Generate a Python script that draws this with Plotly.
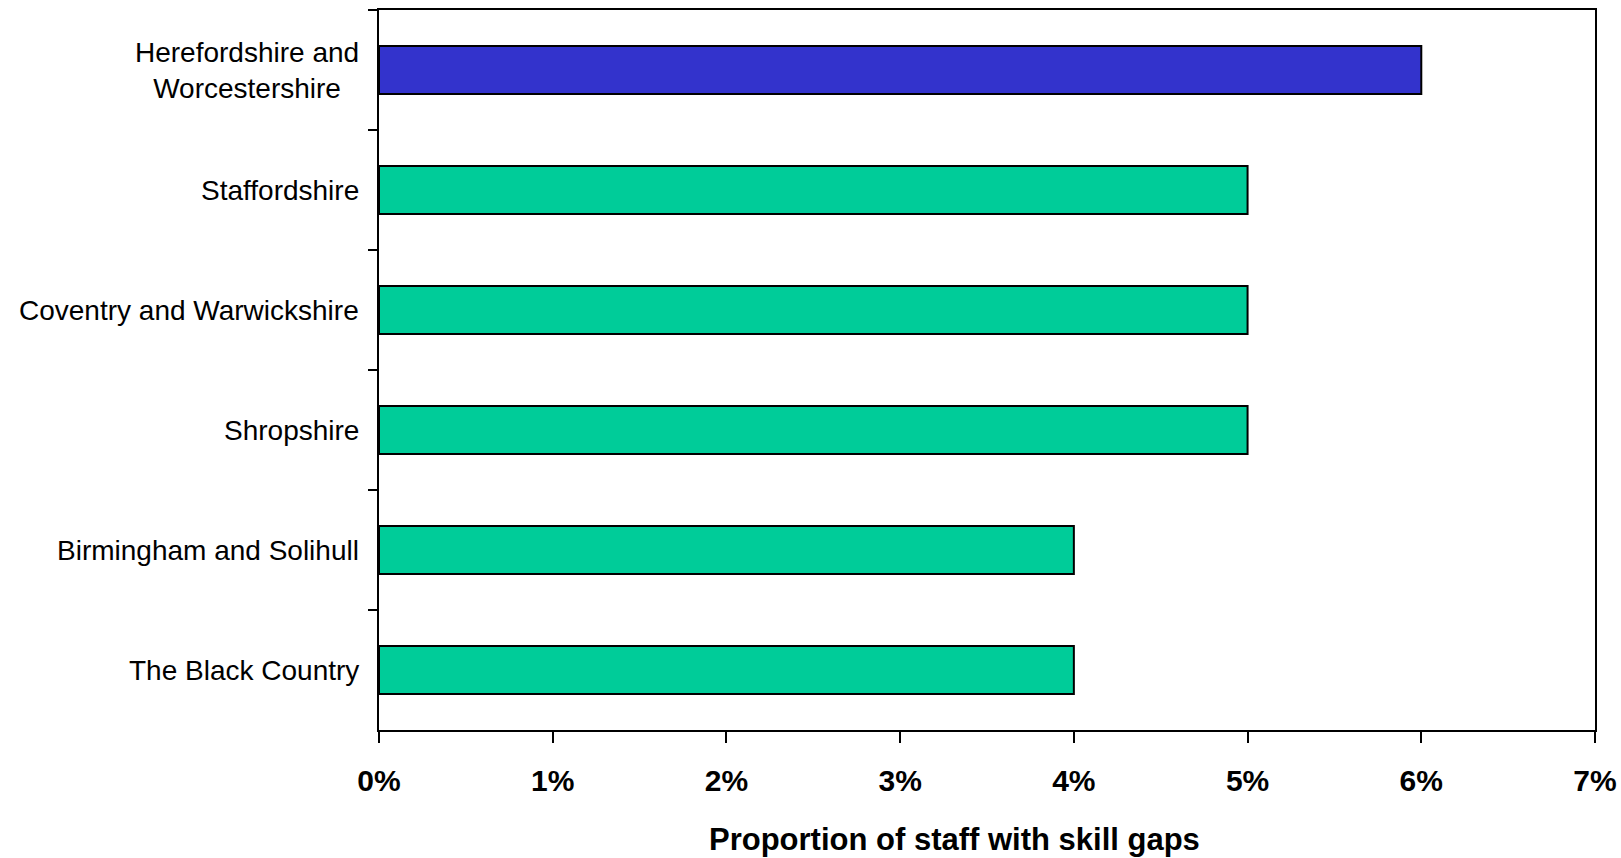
import plotly.graph_objects as go

# Sub-regions, listed top to bottom as they appear on the chart
regions = [
    "Herefordshire and<br>Worcestershire",
    "Staffordshire",
    "Coventry and Warwickshire",
    "Shropshire",
    "Birmingham and Solihull",
    "The Black Country",
]
skill_gap_share = [0.06, 0.05, 0.05, 0.05, 0.04, 0.04]
bar_colours = ["#3333CC", "#00CC99", "#00CC99", "#00CC99", "#00CC99", "#00CC99"]

x_tick_values = [0, 0.01, 0.02, 0.03, 0.04, 0.05, 0.06, 0.07]
x_tick_labels = ["0%", "1%", "2%", "3%", "4%", "5%", "6%", "7%"]
x_title = "Proportion of staff with skill gaps"

FONT = "Arial, Liberation Sans, sans-serif"

fig = go.Figure(
    go.Bar(
        x=skill_gap_share,
        y=regions,
        orientation="h",
        marker=dict(color=bar_colours, line=dict(color="black", width=2)),
        hoverinfo="x+y",
    )
)

# Category names drawn as annotations so that wrapped names stay centred line by line
for name in regions:
    fig.add_annotation(
        x=0, xref="paper", xanchor="right", xshift=-18,
        y=name, yref="y", yanchor="middle",
        text=name, showarrow=False, align="center",
        font=dict(family=FONT, size=28, color="black"),
    )

# Axis title below the tick labels
fig.add_annotation(
    x=0.473, xref="paper", xanchor="center",
    y=0, yref="paper", yanchor="middle", yshift=-109,
    text=f"<b>{x_title}</b>", showarrow=False,
    font=dict(family=FONT, size=31, color="black"),
)

fig.update_layout(
    width=1621, height=858,
    margin=dict(l=379, r=26, t=10, b=128),
    paper_bgcolor="white", plot_bgcolor="white",
    bargap=0.6,
    showlegend=False,
    font=dict(family=FONT, color="black"),
)

fig.update_xaxes(
    range=[0, 0.07],
    tickvals=x_tick_values, ticktext=x_tick_labels,
    tickfont=dict(family=FONT, size=30, color="black", weight="bold"),
    ticks="outside", ticklen=11, tickwidth=2, tickcolor="black",
    ticklabelstandoff=12,
    showline=True, linecolor="black", linewidth=2, mirror=True,
    showgrid=False, zeroline=False, automargin=False,
)

fig.update_yaxes(
    autorange="reversed",
    showticklabels=False,
    ticks="outside", ticklen=9, tickwidth=2, tickcolor="black",
    tickson="boundaries",
    showline=True, linecolor="black", linewidth=2, mirror=True,
    showgrid=False, zeroline=False, automargin=False,
)

fig.write_html("out.html")
